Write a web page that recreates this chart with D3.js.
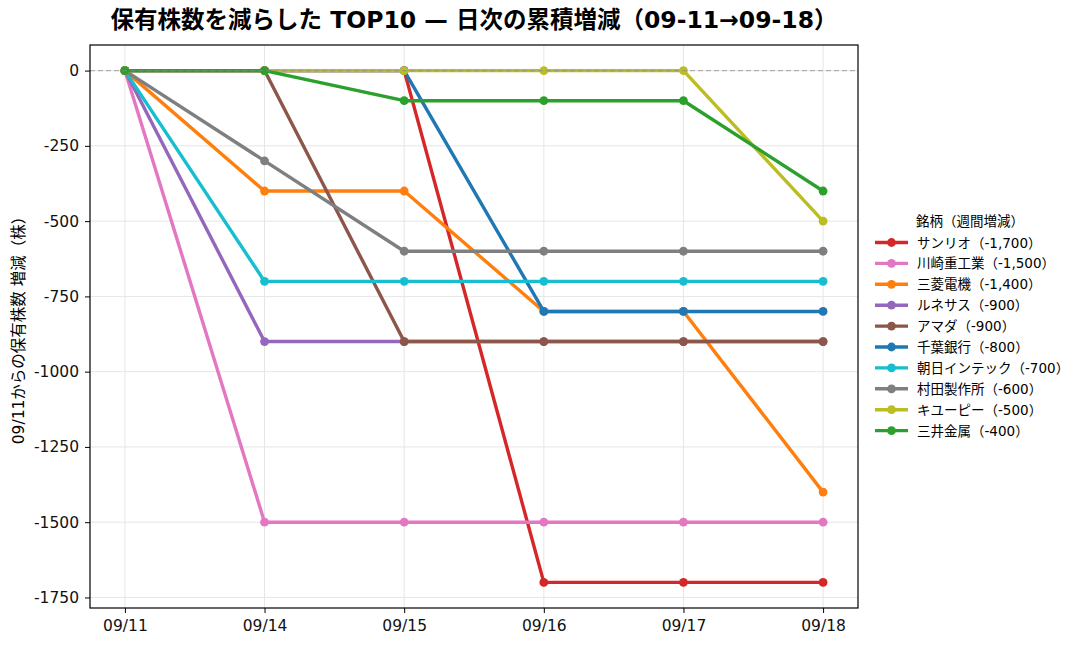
<!DOCTYPE html>
<html>
<head>
<meta charset="utf-8">
<script src="https://cdn.jsdelivr.net/npm/d3@7"></script>
<style>
  body { margin: 0; background: #fff; }
  svg text { font-family: "DejaVu Sans", "Noto Sans CJK JP", sans-serif; }
</style>
</head>
<body>
<div id="chart"></div>
<script>
// Dates and series
const dates = ["09/11", "09/14", "09/15", "09/16", "09/17", "09/18"];
const names = ["サンリオ", "川崎重工業", "三菱電機", "ルネサス", "アマダ", "千葉銀行", "朝日インテック", "村田製作所", "キユーピー", "三井金属"];
const weekly = ["-1,700", "-1,500", "-1,400", "-900", "-900", "-800", "-700", "-600", "-500", "-400"];
const sanrio   = [0, 0, 0, -1700, -1700, -1700];
const kawasaki = [0, -1500, -1500, -1500, -1500, -1500];
const mitsubishi = [0, -400, -400, -800, -800, -1400];
const renesas  = [0, -900, -900, -900, -900, -900];
const amada    = [0, 0, -900, -900, -900, -900];
const chiba    = [0, 0, 0, -800, -800, -800];
const asahi    = [0, -700, -700, -700, -700, -700];
const murata   = [0, -300, -600, -600, -600, -600];
const kewpie   = [0, 0, 0, 0, 0, -500];
const mitsui   = [0, 0, -100, -100, -100, -400];
const yTicks = [0, -250, -500, -750, -1000, -1250, -1500, -1750];
const colors = ["#d62728", "#e377c2", "#ff7f0e", "#9467bd", "#8c564b", "#1f77b4", "#17becf", "#7f7f7f", "#bcbd22", "#2ca02c"];

const seriesValues = [sanrio, kawasaki, mitsubishi, renesas, amada, chiba, asahi, murata, kewpie, mitsui];
const series = names.map((n, i) => ({ name: n, label: `${n}（${weekly[i]}）`, values: seriesValues[i], color: colors[i] }));

const W = 1088, H = 648;
const margin = { top: 45, left: 90 },
      width = 858 - margin.left,
      height = 608 - margin.top;

const root = d3.select("#chart").append("svg")
    .attr("width", W)
    .attr("height", H);

const svg = root.append("g")
    .attr("transform", `translate(${margin.left},${margin.top})`);

// X scale: categorical positions with matplotlib-style padding
const x = d3.scaleLinear()
    .domain([-0.25, dates.length - 1 + 0.25])
    .range([0, width]);

const y = d3.scaleLinear()
    .domain([-1785, 85])
    .range([height, 0]);

// grid
svg.append("g").selectAll("line")
    .data(dates.map((d, i) => i))
    .enter().append("line")
    .attr("x1", d => x(d)).attr("x2", d => x(d))
    .attr("y1", 0).attr("y2", height)
    .attr("stroke", "#e6e6e6").attr("stroke-width", 1);

svg.append("g").selectAll("line")
    .data(yTicks)
    .enter().append("line")
    .attr("x1", 0).attr("x2", width)
    .attr("y1", d => y(d)).attr("y2", d => y(d))
    .attr("stroke", "#e6e6e6").attr("stroke-width", 1);

// axes
const xAxis = svg.append("g")
    .attr("transform", `translate(0,${height})`)
    .call(d3.axisBottom(x).tickValues(dates.map((d, i) => i)).tickFormat(i => dates[i]).tickSize(5).tickPadding(7));

const yAxis = svg.append("g")
    .call(d3.axisLeft(y).tickValues(yTicks).tickFormat(d => String(d)).tickSize(5).tickPadding(6));

[xAxis, yAxis].forEach(a => {
    a.attr("font-family", null).attr("font-size", null);
    a.selectAll("text").style("font-size", "15.5px").attr("fill", "#111");
    a.select(".domain").remove();
});

// lines
const line = d3.line()
    .x((d, i) => x(i))
    .y(d => y(d));

series.forEach(s => {
    const g = svg.append("g");
    g.append("path")
        .datum(s.values)
        .attr("fill", "none")
        .attr("stroke", s.color)
        .attr("stroke-width", 3.4)
        .attr("stroke-linejoin", "round")
        .attr("d", line);
    g.selectAll("circle")
        .data(s.values)
        .enter().append("circle")
        .attr("cx", (d, i) => x(i))
        .attr("cy", d => y(d))
        .attr("r", 4.4)
        .attr("fill", s.color);
});

// zero reference line (drawn over the series)
svg.append("line")
    .attr("x1", 0).attr("x2", width)
    .attr("y1", y(0)).attr("y2", y(0))
    .attr("stroke", "#888")
    .attr("stroke-opacity", 0.6)
    .attr("stroke-width", 1.3)
    .attr("stroke-dasharray", "5,3");

// frame
svg.append("rect")
    .attr("width", width).attr("height", height)
    .attr("fill", "none").attr("stroke", "#000").attr("stroke-width", 1.2);

// titles
root.append("text")
    .attr("x", margin.left + width / 2)
    .attr("y", 28)
    .attr("text-anchor", "middle")
    .style("font-size", "23.5px")
    .style("font-weight", "bold")
    .text("保有株数を減らした TOP10 — 日次の累積増減（09-11→09-18）");

root.append("text")
    .attr("transform", "rotate(-90)")
    .attr("x", -(margin.top + height / 2))
    .attr("y", 24)
    .attr("text-anchor", "middle")
    .style("font-size", "15.5px")
    .text("09/11からの保有株数 増減（株）");

// legend
const legend = root.append("g").attr("transform", "translate(875,0)");
legend.append("text")
    .attr("x", 95).attr("y", 226)
    .attr("text-anchor", "middle")
    .style("font-size", "13.5px")
    .text("銘柄（週間増減）");

const items = legend.selectAll(".item")
    .data(series)
    .enter().append("g")
    .attr("class", "item")
    .attr("transform", (d, i) => `translate(0,${242.5 + i * 20.9})`);

items.append("line")
    .attr("x1", 0).attr("x2", 33)
    .attr("stroke", d => d.color).attr("stroke-width", 3.4);
items.append("circle")
    .attr("cx", 16.5).attr("r", 4.4)
    .attr("fill", d => d.color);
items.append("text")
    .attr("x", 42).attr("y", 5)
    .style("font-size", "13.5px")
    .text(d => d.label);
</script>
</body>
</html>
